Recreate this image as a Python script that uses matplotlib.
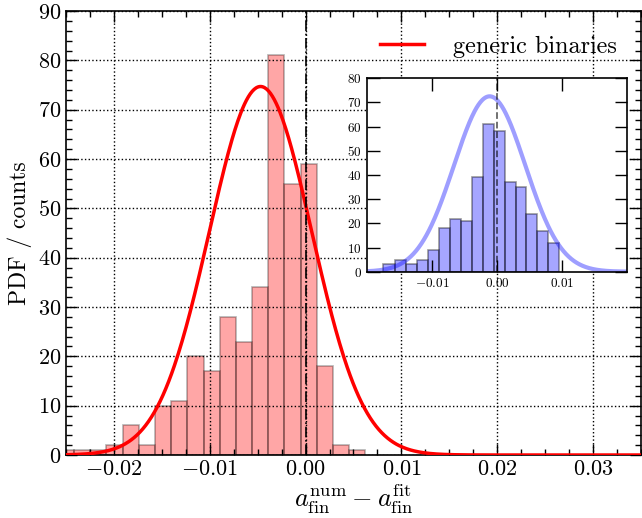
"""
Histogram of final-spin residuals with Gaussian fit; inset with the second sample.
Uses matplotlib + numpy only.
"""

import matplotlib

matplotlib.use("Agg")
import matplotlib.pyplot as plt
import numpy as np
from matplotlib.ticker import FixedLocator, FuncFormatter, MultipleLocator

# main panel: shared bin edges and counts
MAIN_EDGES = [-0.02586, -0.02417, -0.02248, -0.02079, -0.01910, -0.01741,
              -0.01572, -0.01403, -0.01234, -0.01065, -0.00896, -0.00727,
              -0.00558, -0.00389, -0.00220, -0.00051, 0.00118, 0.00287,
              0.00456, 0.00625]
MAIN_COUNTS = [1, 1, 1, 2, 6, 2, 10, 11, 20, 17, 28, 23, 34, 81, 55, 59, 18, 2, 1]
MAIN_FIT_MU = -0.0047
MAIN_FIT_SIGMA = 0.00534

# inset panel
INSET_EDGES = [-0.01754, -0.01575, -0.01406, -0.01237, -0.01068, -0.00898,
               -0.00729, -0.00560, -0.00391, -0.00222, -0.00052, 0.00117,
               0.00286, 0.00455, 0.00625, 0.00794, 0.00963]
INSET_COUNTS = [3, 5, 3, 5, 9, 18, 22, 21, 39, 61, 58, 37, 35, 24, 17, 12]
INSET_FIT_MU = -0.00113
INSET_FIT_SIGMA = 0.0055

MAIN_XTICKS = [-0.02, -0.01, 0.00, 0.01, 0.02, 0.03]
INSET_XTICKS = [-0.01, 0.00, 0.01]
LEGEND_LABEL = "generic binaries"


def gauss(x, mu, sigma):
    return np.exp(-0.5 * ((x - mu) / sigma) ** 2) / (sigma * np.sqrt(2 * np.pi))


def tick_fmt(v, _pos):
    return f"${v:.2f}$"


def draw_hist(ax, edges, counts, color, edge_alpha):
    edges = np.asarray(edges)
    ax.bar(edges[:-1], counts, width=np.diff(edges), align="edge",
           facecolor=color, edgecolor=(0, 0, 0, edge_alpha), linewidth=1.2)


def main() -> None:
    plt.rcParams.update(
        {
            "font.family": "serif",
            "font.serif": ["cmr10", "DejaVu Serif"],
            "mathtext.fontset": "cm",
            "axes.linewidth": 1.2,
        }
    )

    fig = plt.figure(figsize=(6.42, 5.18), dpi=100)
    ax = fig.add_axes([0.1028, 0.1216, 0.8956, 0.857])

    draw_hist(ax, MAIN_EDGES, MAIN_COUNTS, (1, 0, 0, 0.35), 0.3)
    xs = np.linspace(-0.025, 0.035, 600)
    ax.plot(xs, gauss(xs, MAIN_FIT_MU, MAIN_FIT_SIGMA), color="red", lw=2.5,
            label=LEGEND_LABEL, zorder=3)
    ax.axvline(0.0, color="k", ls="-.", lw=1.2, zorder=4)

    ax.set_xlim(-0.025, 0.035)
    ax.set_ylim(0, 90)
    ax.xaxis.set_major_locator(FixedLocator(MAIN_XTICKS))
    ax.xaxis.set_minor_locator(MultipleLocator(0.0025))
    ax.xaxis.set_major_formatter(FuncFormatter(tick_fmt))
    ax.yaxis.set_major_locator(MultipleLocator(10))
    ax.yaxis.set_minor_locator(MultipleLocator(2))
    ax.yaxis.set_major_formatter(FuncFormatter(lambda v, p: f"${v:.0f}$"))
    ax.tick_params(which="both", direction="in", top=True, right=True, width=1.0,
                   labelsize=16)
    ax.tick_params(which="major", length=8)
    ax.tick_params(which="minor", length=4.5)
    ax.grid(True, which="major", ls=":", color="k", lw=1.0)
    ax.set_xlabel(r"$a_{\rm fin}^{\rm num} - a_{\rm fin}^{\rm fit}$", fontsize=19,
                  labelpad=2)
    ax.set_ylabel("PDF / counts", fontsize=17, labelpad=4)
    ax.legend(loc="upper right", frameon=False, fontsize=17.5, handlelength=1.8,
              handletextpad=1.2, borderaxespad=0.6)

    # inset
    ins = fig.add_axes([0.5721, 0.4755, 0.404, 0.3734])
    draw_hist(ins, INSET_EDGES, INSET_COUNTS, (0, 0, 1, 0.35), 0.4)
    xi = np.linspace(-0.02, 0.02, 400)
    ins.plot(xi, gauss(xi, INSET_FIT_MU, INSET_FIT_SIGMA), color=(0, 0, 1, 0.38),
             lw=3)
    ins.axvline(0.0, color=(0, 0, 0, 0.6), ls="--", lw=1.3)
    ins.set_xlim(-0.02, 0.02)
    ins.set_ylim(0, 80)
    ins.xaxis.set_major_locator(FixedLocator(INSET_XTICKS))
    ins.xaxis.set_major_formatter(FuncFormatter(tick_fmt))
    ins.yaxis.set_major_locator(MultipleLocator(10))
    ins.yaxis.set_major_formatter(FuncFormatter(lambda v, p: f"${v:.0f}$"))
    ins.tick_params(which="major", direction="in", top=True, right=True,
                    length=9, width=1.0, labelsize=9.5, pad=4)

    fig.savefig("out.png", dpi=100)
    plt.close(fig)


if __name__ == "__main__":
    main()
